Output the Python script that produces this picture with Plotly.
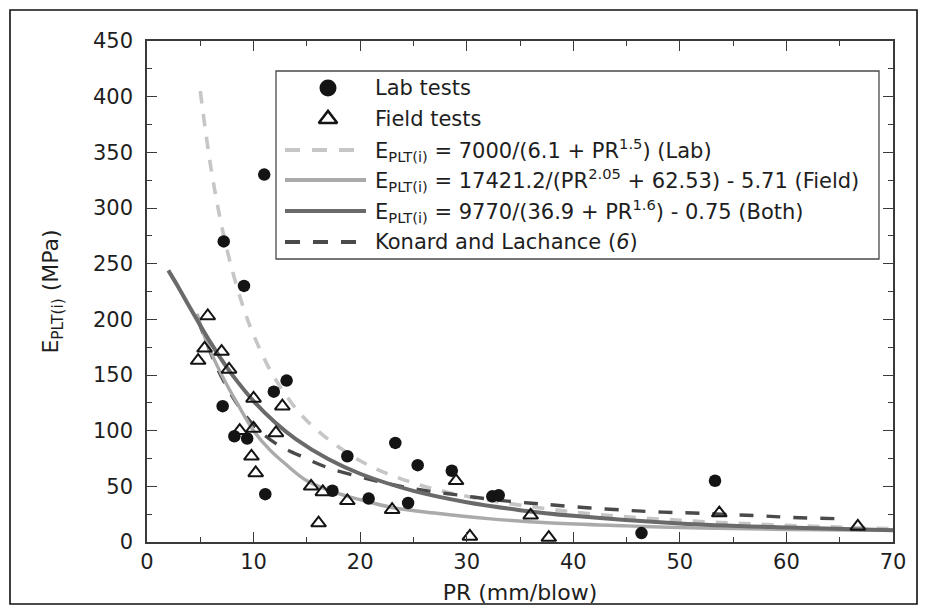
import plotly.graph_objects as go

# ---------------- data ----------------
# Lab tests (filled circles)
lab_pr = [11.0, 7.2, 9.1, 13.1, 11.9, 7.1, 8.2, 9.4, 11.1, 18.8, 23.3, 25.4,
          28.6, 17.4, 20.8, 24.5, 32.4, 33.0, 46.4, 53.3]
lab_e = [330, 270, 230, 145, 135, 122, 95, 93, 43, 77, 89, 69,
         64, 46, 39, 35, 41, 42, 8, 55]

# Field tests (open triangles)
field_pr = [5.7, 5.4, 7.0, 4.8, 7.7, 10.0, 12.7, 8.7, 10.0, 12.1, 9.8, 10.2,
            15.4, 16.5, 18.8, 16.1, 23.0, 29.0, 30.3, 36.0, 37.7, 53.7, 66.7]
field_e = [203, 174, 171, 163, 155, 129, 122, 100, 102, 98, 77, 62,
           50, 45, 37, 17, 29, 55, 5, 24, 4, 26, 14]

# Fitted curve (Lab)
lab_fit_pr = [5, 6, 7, 8, 9, 10, 12, 15, 20, 25, 30, 40, 50, 60, 70]
lab_fit_e = [405, 336, 284, 244, 212, 186, 147, 109, 73, 53, 41, 27, 19.5, 15, 12]

# Fitted curve (Field)
field_fit_pr = [4.7, 5.5, 6.5, 7.5, 8.5, 10, 11.5, 13, 15, 17.5, 20, 23, 27,
                32, 38, 45, 52, 60, 70]
field_fit_e = [205, 182, 160, 141, 124, 100, 83, 70, 55, 45, 38, 31, 26,
               21, 17, 14.5, 12.5, 11.2, 10.5]

# Fitted curve (Both)
both_fit_pr = [2, 3, 4, 5, 6, 7, 8, 10, 12, 14, 17, 20, 25, 30, 35, 40, 50, 60, 70]
both_fit_e = [244, 228, 211, 194.5, 178.6, 163.7, 150.1, 126.6, 107.6, 92.2,
              74.5, 61.3, 45.9, 35.7, 28.6, 23.5, 16.7, 13, 10.5]

# Konard and Lachance
konrad_pr = [4.8, 6.4, 7.4, 8.6, 10, 12, 14.7, 17.2, 20.6, 23.3, 26.2, 29.4,
             32.5, 35.8, 38.4, 41.6, 45, 47.8, 51.2, 57.5, 60.6, 64.5]
konrad_e = [199, 160, 141, 122, 105, 89, 76, 66, 57, 51, 46, 42,
            38, 35, 33, 30.5, 28.5, 27, 26, 23.5, 22, 21]

x_ticks = [0, 10, 20, 30, 40, 50, 60, 70]
y_ticks = [0, 50, 100, 150, 200, 250, 300, 350, 400, 450]

legend_labels = [
    "Lab tests",
    "Field tests",
    "E<sub>PLT(i)</sub> = 7000/(6.1 + PR<sup>1.5</sup>) (Lab)",
    "E<sub>PLT(i)</sub> = 17421.2/(PR<sup>2.05</sup> + 62.53) - 5.71 (Field)",
    "E<sub>PLT(i)</sub> = 9770/(36.9 + PR<sup>1.6</sup>) - 0.75 (Both)",
    "Konard and Lachance (<i>6</i>)",
]

# ---------------- styles ----------------
FONT = "DejaVu Sans, Liberation Sans, Arial, sans-serif"
TXT = "#1e1e1e"
C_LAB = "#c6c6c6"
C_FIELD = "#aaaaaa"
C_BOTH = "#6a6a6a"
C_KON = "#4a4a4a"
LAB_DASH = "12px,11px"
KON_DASH = "14px,13px"

fig = go.Figure()

fig.add_trace(go.Scatter(x=lab_fit_pr, y=lab_fit_e, mode="lines", line_shape="spline",
                         line=dict(color=C_LAB, width=3.6, dash=LAB_DASH)))
fig.add_trace(go.Scatter(x=konrad_pr, y=konrad_e, mode="lines", line_shape="spline",
                         line=dict(color=C_KON, width=3.4, dash=KON_DASH)))
fig.add_trace(go.Scatter(x=field_fit_pr, y=field_fit_e, mode="lines", line_shape="spline",
                         line=dict(color=C_FIELD, width=3.4)))
fig.add_trace(go.Scatter(x=both_fit_pr, y=both_fit_e, mode="lines", line_shape="spline",
                         line=dict(color=C_BOTH, width=4)))
fig.add_trace(go.Scatter(x=lab_pr, y=lab_e, mode="markers", cliponaxis=False,
                         marker=dict(symbol="circle", size=12.5, color="#141414")))
fig.add_trace(go.Scatter(x=field_pr, y=field_e, mode="markers", cliponaxis=False,
                         marker=dict(symbol="triangle-up-open", size=13, color="#141414",
                                     line=dict(width=2, color="#141414"))))

# ---------------- legend (drawn on a hidden pixel-like overlay axis) ----------------
L, R, T, B = 147, 893, 41, 542
rows = [88, 119, 150, 180, 211, 242]
box = dict(x0=276, x1=879, y0=71, y1=259)
sym_x = 328
line_x0, line_x1 = 285, 366
text_x = 373

fig.add_trace(go.Scatter(x=[sym_x], y=[rows[0]], xaxis="x2", yaxis="y2", mode="markers",
                         marker=dict(symbol="circle", size=17, color="#141414")))
fig.add_trace(go.Scatter(x=[sym_x], y=[rows[1]], xaxis="x2", yaxis="y2", mode="markers",
                         marker=dict(symbol="triangle-up-open", size=16, color="#141414",
                                     line=dict(width=2.6, color="#141414"))))

shapes = [
    dict(type="rect", xref="x2", yref="y2", layer="below", **box,
         fillcolor="white", line=dict(color="#4a4a4a", width=1.3)),
    # outer frame of the figure
    dict(type="rect", xref="paper", yref="paper",
         x0=(10 - L) / (R - L), x1=(917 - L) / (R - L),
         y0=(B - 604) / (B - T), y1=(B - 10) / (B - T),
         line=dict(color="#111111", width=1.6)),
]
sample_styles = [
    dict(color=C_LAB, width=3.8, dash="15px,12px"),
    dict(color=C_FIELD, width=3.8),
    dict(color=C_BOTH, width=4.2),
    dict(color=C_KON, width=3.8, dash="15px,13px"),
]
for yy, st in zip(rows[2:], sample_styles):
    shapes.append(dict(type="line", xref="x2", yref="y2", x0=line_x0, x1=line_x1,
                       y0=yy, y1=yy, line=st))

annotations = []
for yy, lab in zip(rows, legend_labels):
    annotations.append(dict(x=text_x, y=yy, xref="x2", yref="y2", text=lab,
                            showarrow=False, xanchor="left", yanchor="middle",
                            font=dict(family=FONT, size=21, color=TXT)))

axis_common = dict(showgrid=False, zeroline=False, showline=True, linecolor="#3a3a3a",
                   linewidth=1.5, mirror="ticks", ticks="inside", ticklen=10,
                   tickwidth=1.3, tickcolor="#3a3a3a", automargin=False,
                   tickfont=dict(family=FONT, size=21, color=TXT))

fig.update_layout(
    width=927, height=610,
    margin=dict(l=L, r=927 - R, t=T, b=610 - B),
    paper_bgcolor="white", plot_bgcolor="white",
    showlegend=False,
    shapes=shapes, annotations=annotations,
    xaxis=dict(range=[0, 70], tickvals=x_ticks, **axis_common,
               minor=dict(dtick=5, ticks="inside", ticklen=5, tickwidth=1.2, tickcolor="#3a3a3a"),
               title=dict(text="PR (mm/blow)", standoff=12,
                          font=dict(family=FONT, size=22, color=TXT))),
    yaxis=dict(range=[0, 450], tickvals=y_ticks, **axis_common, ticklabelstandoff=8,
               minor=dict(dtick=25, ticks="inside", ticklen=5, tickwidth=1.2, tickcolor="#3a3a3a"),
               title=dict(text="E<sub>PLT(i)</sub> (MPa)", standoff=28,
                          font=dict(family=FONT, size=22, color=TXT))),
    xaxis2=dict(overlaying="x", anchor="y2", range=[L, R], visible=False, fixedrange=True),
    yaxis2=dict(overlaying="y", anchor="x2", range=[B, T], visible=False, fixedrange=True),
)

fig.write_html("out.html")
